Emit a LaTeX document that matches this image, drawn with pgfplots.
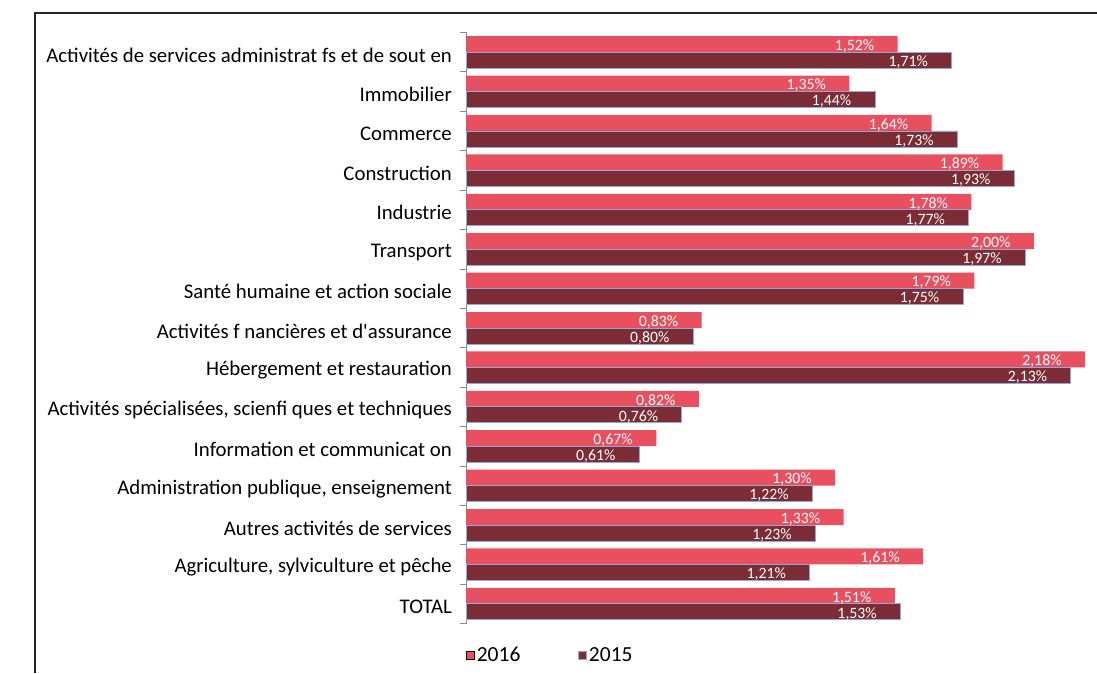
\documentclass[border=0pt]{standalone}
\usepackage{pgfplots}
\pgfplotsset{compat=1.18}
\usepackage{fontspec}
\setmainfont{Carlito}
\definecolor{c2016}{HTML}{E8505F}
\definecolor{c2015}{HTML}{7B2C34}
\definecolor{edge15}{HTML}{8EAADB}
\begin{document}
\begin{tikzpicture}
\path[use as bounding box] (0pt,0pt) rectangle (1097pt,673pt);
\draw[line width=1.4pt, black!85] (35pt,0pt) -- (35pt,660pt) -- (1097pt,660pt);
\begin{axis}[
  at={(466pt,49.5pt)}, anchor=south west, scale only axis,
  width=631pt, height=591pt,
  xmin=0, xmax=2.222, ymin=-0.5, ymax=14.5,
  xbar, bar width=16pt,
  axis x line=none, axis y line*=left,
  y axis line style={draw=gray!90, line width=0.8pt},
  ytick={0,...,14},
  yticklabels={TOTAL, {Agriculture, sylviculture et pêche}, Autres activités de services, {Administration publique, enseignement}, Information et communicat on, {Activités spécialisées, scienfi ques et techniques}, Hébergement et restauration, Activités f nancières et d\textquotesingle assurance, Santé humaine et action sociale, Transport, Industrie, Construction, Commerce, Immobilier, Activités de services administrat fs et de sout en},
  major tick length=0pt,
  extra y ticks={-0.5,0.5,...,14.5},
  extra y tick labels={},
  extra y tick style={major tick length=6pt, tick align=outside, tick style={draw=gray!90, line width=0.8pt}},
  yticklabel style={font=\fontsize{20.8}{24}\selectfont, text=black, inner sep=0pt, xshift=-14pt, yshift=-3pt},
  point meta=x,
  nodes near coords={\pgfmathprintnumber[fixed,fixed zerofill,precision=2,use comma,assume math mode=true]{\pgfplotspointmeta}\%},
  every node near coord/.append style={anchor=east, xshift=-20pt, yshift=-2pt, font=\fontsize{15.8}{17}\selectfont, text=white},
  legend style={at={(axis description cs:0,-0.054)}, anchor=west, draw=none, fill=none, legend columns=2, font=\fontsize{21.5}{24}\selectfont, inner sep=0pt,
    /tikz/every even column/.append style={column sep=56pt}},
  legend cell align=left,
  legend image code/.code={\draw[#1, line width=0.6pt] (0pt,-4pt) rectangle (8pt,4pt);},
]
\addplot[fill=c2016, draw=none, bar shift=8pt] coordinates {
(1.51,0) (1.61,1) (1.33,2) (1.30,3) (0.67,4) (0.82,5) (2.18,6) (0.83,7) (1.79,8) (2.00,9) (1.78,10) (1.89,11) (1.64,12) (1.35,13) (1.52,14)
};
\addplot[fill=c2015, draw=edge15, line width=0.8pt, bar shift=-8pt] coordinates {
(1.53,0) (1.21,1) (1.23,2) (1.22,3) (0.61,4) (0.76,5) (2.13,6) (0.80,7) (1.75,8) (1.97,9) (1.77,10) (1.93,11) (1.73,12) (1.44,13) (1.71,14)
};
\legend{2016,2015}
\end{axis}
\end{tikzpicture}
\end{document}
